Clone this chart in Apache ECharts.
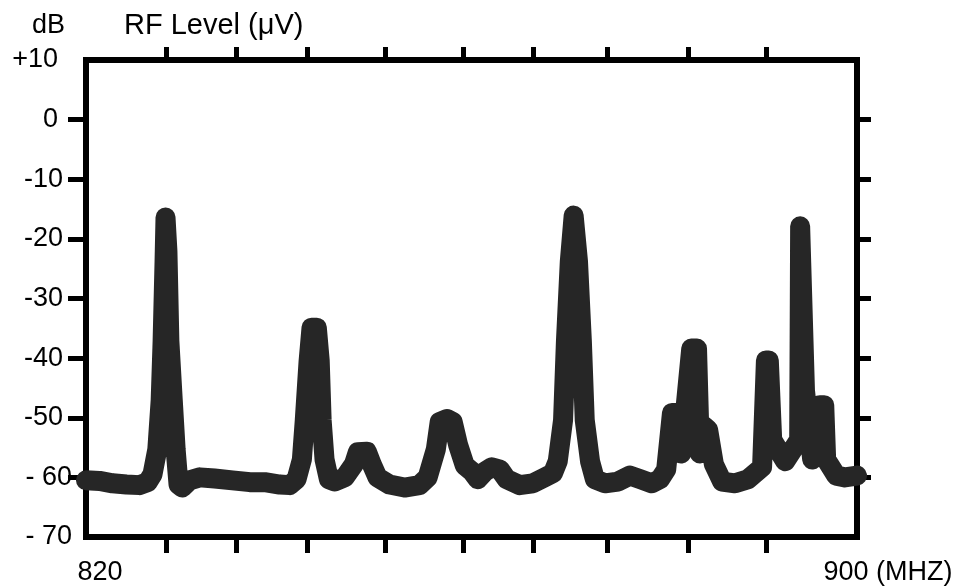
<!DOCTYPE html>
<html>
<head>
<meta charset="utf-8">
<title>RF Level spectrum 820-900 MHz</title>
<script src="https://cdn.jsdelivr.net/npm/echarts@6/dist/echarts.min.js"></script>
<style>
  html, body { margin: 0; padding: 0; background: #fff; }
  #chart { width: 964px; height: 587px; }
</style>
</head>
<body>
<div id="chart"></div>
<script>
// Swept RF level trace, 820-900 MHz
const freqMHz = [
  820.0, 821.4, 822.75, 824.2, 825.55, 826.4,
  826.9, 827.4, 827.75, 827.95, 828.15, 828.25, 828.45, 828.65, 829.0, 829.3, 829.6, 830.0,
  830.75, 831.8, 833.35, 835.2, 837.0, 838.55, 840.1, 841.15,
  841.85, 842.4, 842.7, 843.1, 843.4, 843.95, 844.25, 844.45, 844.75, 845.2, 845.8,
  846.85, 847.8, 848.2, 849.15, 849.65, 850.25, 851.5, 853.05, 854.6, 855.45,
  856.3, 856.7, 857.45, 858.05, 858.6, 859.3, 860.05, 860.65,
  861.4, 862.1, 862.95, 863.65, 865.0, 866.35, 867.6, 868.45,
  868.95, 869.5, 869.8, 870.2, 870.6, 871.05, 871.45, 871.75, 872.3, 872.8,
  873.85, 875.2, 876.45, 877.5, 878.7, 879.55,
  880.2, 880.8, 881.2, 881.75, 882.8, 883.4, 883.7, 884.2, 884.55, 885.15, 886.0,
  887.35, 888.7,
  890.15, 890.55, 890.85, 891.2, 892.55,
  894.0, 894.1, 894.3, 894.6, 895.35,
  896.15, 896.6, 896.8, 897.85, 898.75, 900.0
];
const levelDb = [
  -60.5, -60.6, -61.0, -61.2, -61.3, -60.8,
  -59.5, -55.3, -47.0, -37.1, -23.8, -16.4, -22.1, -37.1, -47.0, -55.3, -61.2, -61.7,
  -60.5, -60.0, -60.2, -60.5, -60.8, -60.8, -61.2, -61.3,
  -60.3, -57.0, -50.4, -40.4, -34.9, -34.9, -40.4, -50.4, -57.0, -60.3, -60.7,
  -60.0, -57.8, -55.8, -55.7, -57.8, -60.0, -61.2, -61.7, -61.3, -60.0,
  -55.3, -50.7, -50.2, -50.7, -54.5, -58.0, -59.0, -60.3,
  -59.0, -58.3, -58.7, -60.3, -61.3, -61.0, -60.0, -59.3,
  -57.3, -50.4, -37.1, -23.8, -16.1, -23.8, -37.1, -50.4, -57.3, -60.3,
  -61.0, -60.7, -59.7, -60.3, -61.0, -60.3,
  -58.7, -49.2, -49.2, -56.0, -38.4, -38.4, -56.0, -51.5, -52.0, -57.8, -60.7,
  -61.0, -60.3,
  -58.3, -40.4, -40.4, -53.7, -57.3,
  -53.7, -17.9, -17.9, -45.4, -57.0,
  -47.9, -47.9, -57.0, -59.7, -60.0, -59.7
];

// frequency tick marks along the top and bottom edges
const freqTicks = [828.3, 835.6, 843.0, 851.1, 859.1, 866.4, 874.05, 882.5, 890.55];
const freqLabelValues = [820, 900];
const freqLabels = ['820', '900 (MHZ)'];

// level scale
const dbTickValues = [-70, -60, -50, -40, -30, -20, -10, 0, 10];
const dbTickLabels = ['- 70', '- 60', '-50', '-40', '-30', '-20', '-10', '0', '+10'];
const dbTickMarks = [-60, -50, -40, -30, -20, -10, 0];

const FONT = '"Liberation Sans", Arial, Helvetica, sans-serif';
const chart = echarts.init(document.getElementById('chart'), null, { renderer: 'canvas' });

const trace = freqMHz.map((f, i) => [f, levelDb[i]]);

function dbLabel(v) {
  const s = dbTickLabels[dbTickValues.indexOf(v)];
  if (s === '0' || s === '+10') return '{c|' + s + '}';
  if (s.indexOf(' ') >= 0) return '{a|' + s + '}';
  return '{b|' + s + '}';
}

const labelText = { fontFamily: FONT, fontSize: 27, color: '#000' };

chart.setOption({
  animation: false,
  backgroundColor: '#ffffff',
  title: [
    { text: 'dB', left: 32, top: 12, padding: 0,
      textStyle: { fontFamily: FONT, fontSize: 27, fontWeight: 'normal', color: '#000' } },
    { text: 'RF Level (\u03bcV)', left: 124, top: 11, padding: 0,
      textStyle: { fontFamily: FONT, fontSize: 29, fontWeight: 'normal', color: '#000' } }
  ],
  grid: {
    left: 86, right: 107, top: 60, bottom: 50,
    show: true, borderColor: '#000', borderWidth: 6, backgroundColor: '#fff',
    outerBoundsMode: 'none'
  },
  xAxis: [
    {
      type: 'value', position: 'bottom', min: 820, max: 900,
      axisLine: { show: false, onZero: false },
      splitLine: { show: false },
      axisTick: { show: true, inside: false, length: 16, customValues: freqTicks,
        lineStyle: { color: '#000', width: 5 } },
      axisLabel: {
        show: true, customValues: freqLabelValues, margin: 22,
        formatter: v => {
          const s = freqLabels[freqLabelValues.indexOf(v)];
          return v === 820 ? '{l|' + s + '}' : '{r|' + s + '}';
        },
        rich: {
          l: Object.assign({ padding: [0, 0, 0, 28] }, labelText),
          r: Object.assign({ padding: [0, 0, 0, 62] }, labelText)
        }
      }
    },
    {
      type: 'value', position: 'top', min: 820, max: 900,
      axisLine: { show: false, onZero: false },
      splitLine: { show: false },
      axisTick: { show: true, inside: false, length: 13, customValues: freqTicks,
        lineStyle: { color: '#000', width: 5 } },
      axisLabel: { show: false }
    }
  ],
  yAxis: [
    {
      type: 'value', position: 'left', min: -70, max: 10, interval: 10,
      axisLine: { show: false, onZero: false },
      splitLine: { show: false },
      axisTick: { show: true, inside: false, length: 18, customValues: dbTickMarks,
        lineStyle: { color: '#000', width: 5 } },
      axisLabel: {
        show: true, margin: 14, formatter: dbLabel,
        rich: {
          a: Object.assign({ padding: [0, 0, 0, 0] }, labelText),
          b: Object.assign({ padding: [0, 9, 0, 0] }, labelText),
          c: Object.assign({ padding: [0, 14, 0, 0] }, labelText)
        }
      }
    },
    {
      type: 'value', position: 'right', min: -70, max: 10, interval: 10,
      axisLine: { show: false, onZero: false },
      splitLine: { show: false },
      axisTick: { show: true, inside: false, length: 14, customValues: dbTickMarks,
        lineStyle: { color: '#000', width: 5 } },
      axisLabel: { show: false }
    }
  ],
  series: [
    {
      type: 'line',
      xAxisIndex: 0, yAxisIndex: 0,
      data: trace,
      showSymbol: false,
      smooth: false,
      clip: true,
      lineStyle: { color: '#262626', width: 20, join: 'round', cap: 'round' },
      z: 1
    }
  ]
});
</script>
</body>
</html>
